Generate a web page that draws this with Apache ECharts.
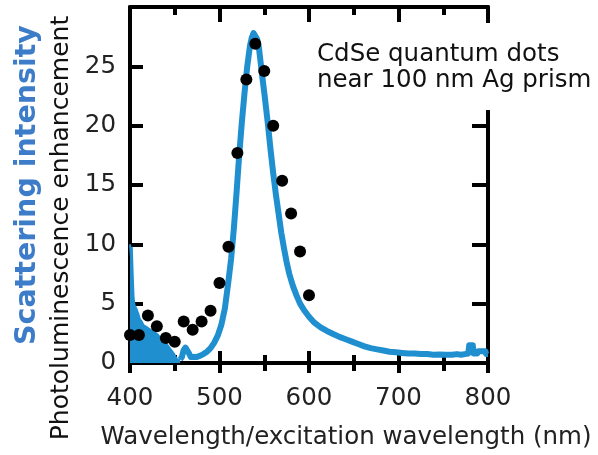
<!DOCTYPE html>
<html>
<head>
<meta charset="utf-8">
<script src="https://cdn.jsdelivr.net/npm/echarts@6/dist/echarts.min.js"></script>
<style>html,body{margin:0;padding:0;background:#fff;}#c{width:598px;height:455px;}</style>
</head>
<body>
<div id="c"></div>
<script>
// ---- data ----
const xTickLabels = [400, 500, 600, 700, 800];
const yTickLabels = [0, 5, 10, 15, 20, 25];

// photoluminescence enhancement (black dots)
const dotWavelengths = [400,410,420,430,440,450,460,470,480,490,500,510,520,530,540,550,560,570,580,590,600];
const dotValues = [2.35,2.35,4.0,3.1,2.1,1.8,3.5,2.8,3.5,4.4,6.75,9.8,17.7,23.9,26.9,24.6,20.0,15.35,12.6,9.4,5.7];

// scattering spectrum, noisy short-wavelength part (drawn filled)
const noiseWavelengths = [400,401,402,403,404,405,407,409,411,413,415,417,419,421,423,425,427,429,431,433,435,437,439,441,443,445,447,449,451,453,456];
const noiseValues = [10.0,9.0,9.8,7.5,5.5,4.9,4.6,4.2,3.7,3.5,3.2,3.1,3.0,2.9,2.8,2.7,2.6,2.5,2.4,2.2,2.0,1.9,1.8,1.6,1.4,1.2,1.0,0.8,0.5,0.3,0.25];

// scattering spectrum, main part
const specWavelengths = [456,458,460,462,464,466,468,470,474,478,482,486,490,494,498,502,506,510,513,516,519,522,525,528,531,534,536,538,540,542,544,546,548,550,552,554,557,560,563,566,569,572,575,578,582,586,590,595,600,606,613,620,627,634,641,648,655,662,669,676,683,690,697,704,711,718,725,732,739,746,753,760,765,770,774,778,779,783,784,788,789,797,798,800];
const specValues = [0.3,0.5,1.1,1.3,1.2,0.8,0.5,0.45,0.5,0.6,0.75,0.95,1.25,1.7,2.3,3.2,4.6,6.9,8.8,11.3,14.3,17.5,20.3,22.8,25.0,26.7,27.4,27.8,27.7,27.3,26.6,25.3,24.0,22.8,21.5,20.2,18.0,16.0,14.2,12.6,11.0,9.7,8.5,7.5,6.5,5.7,5.0,4.4,3.9,3.4,3.0,2.7,2.45,2.2,2.0,1.8,1.6,1.4,1.25,1.15,1.05,0.95,0.9,0.85,0.8,0.8,0.75,0.75,0.7,0.72,0.7,0.7,0.75,0.7,0.75,0.8,1.5,1.5,0.8,0.8,1.0,1.0,0.75,0.75];

const blue = '#1f8fcf';
const font = 'DejaVu Sans';

const zip = (a, b) => a.map((v, i) => [v, b[i]]);

const chart = echarts.init(document.getElementById('c'));
const tickW = 4;
const blackLine = { onZero: false, lineStyle: { color: '#000', width: 4 } };
chart.setOption({
  animation: false,
  backgroundColor: '#fff',
  grid: { left: 130, right: 110, top: 7, bottom: 90 },
  xAxis: [
    {
      type: 'value', position: 'bottom', min: 400, max: 800, interval: 100,
      splitLine: { show: false },
      axisLine: blackLine,
      axisTick: { inside: false, length: 10, lineStyle: { color: '#000', width: tickW } },
      minorTick: { show: true, splitNumber: 2, length: 8, lineStyle: { color: '#000', width: tickW } },
      axisLabel: { fontFamily: font, fontSize: 24.5, color: '#222', margin: 23,
        formatter: v => xTickLabels.includes(v) ? String(v) : '' },
      name: 'Wavelength/excitation wavelength (nm)',
      nameLocation: 'middle', nameGap: 62,
      nameTextStyle: { fontFamily: font, fontSize: 24.5, color: '#222', padding: [0, 0, 0, 74] }
    },
    {
      type: 'value', position: 'bottom', min: 400, max: 800, interval: 100,
      splitLine: { show: false },
      axisLine: { show: false, onZero: false },
      axisTick: { inside: true, length: 12, lineStyle: { color: '#000', width: tickW } },
      minorTick: { show: true, splitNumber: 2, length: 8, lineStyle: { color: '#000', width: tickW } },
      axisLabel: { show: false }
    },
    {
      type: 'value', position: 'top', min: 400, max: 800, interval: 100,
      splitLine: { show: false },
      axisLine: blackLine,
      axisTick: { inside: true, length: 15, lineStyle: { color: '#000', width: tickW } },
      minorTick: { show: true, splitNumber: 2, length: 8, lineStyle: { color: '#000', width: tickW } },
      axisLabel: { show: false }
    }
  ],
  yAxis: [
    {
      type: 'value', position: 'left', min: 0, max: 30, interval: 5,
      splitLine: { show: false },
      axisLine: blackLine,
      axisTick: { inside: true, length: 13, lineStyle: { color: '#000', width: tickW } },
      axisLabel: { fontFamily: font, fontSize: 24.5, color: '#222', margin: 14,
        formatter: v => yTickLabels.includes(v) ? String(v) : '' },
      name: 'Photoluminescence enhancement',
      nameLocation: 'middle', nameGap: 40, nameRotate: 90,
      nameTextStyle: { fontFamily: font, fontSize: 25, color: '#111', padding: [0, 86, 0, 0] }
    },
    {
      type: 'value', position: 'right', min: 0, max: 30, interval: 5,
      splitLine: { show: false },
      axisLine: blackLine,
      axisTick: { inside: true, length: 16, lineStyle: { color: '#000', width: tickW } },
      axisLabel: { show: false }
    },
    {
      type: 'value', position: 'left', min: 0, max: 30, interval: 5,
      splitLine: { show: false },
      axisLine: { show: false, onZero: false }, axisTick: { show: false }, axisLabel: { show: false },
      name: 'Scattering intensity',
      nameLocation: 'middle', nameGap: 88, nameRotate: 90,
      nameTextStyle: { fontFamily: font, fontSize: 28.5, fontWeight: 'bold', color: '#3d7cc8' }
    }
  ],
  series: [
    {
      type: 'line', name: 'scatter-noise', xAxisIndex: 0, yAxisIndex: 0,
      data: zip(noiseWavelengths, noiseValues),
      showSymbol: false, clip: true,
      lineStyle: { color: blue, width: 2 },
      areaStyle: { color: blue, opacity: 1 },
      z: 2
    },
    {
      type: 'line', name: 'scattering', xAxisIndex: 0, yAxisIndex: 0,
      data: zip(specWavelengths, specValues),
      showSymbol: false, clip: true,
      lineStyle: { color: blue, width: 6, join: 'round' },
      z: 3
    },
    {
      type: 'scatter', name: 'PL', xAxisIndex: 0, yAxisIndex: 0,
      data: zip(dotWavelengths, dotValues),
      symbolSize: 12, itemStyle: { color: '#000', opacity: 1 },
      z: 4
    }
  ],
  graphic: [
    { type: 'rect', z: 100, shape: { x: 306, y: 23, width: 292, height: 87 }, style: { fill: '#fff' } },
    { type: 'text', z: 101, x: 317, y: 42,
      style: { text: 'CdSe quantum dots\nnear 100 nm Ag prism', fontFamily: font, fontSize: 24.5,
        lineHeight: 26, fill: '#111', textVerticalAlign: 'top' } }
  ]
});
</script>
</body>
</html>
